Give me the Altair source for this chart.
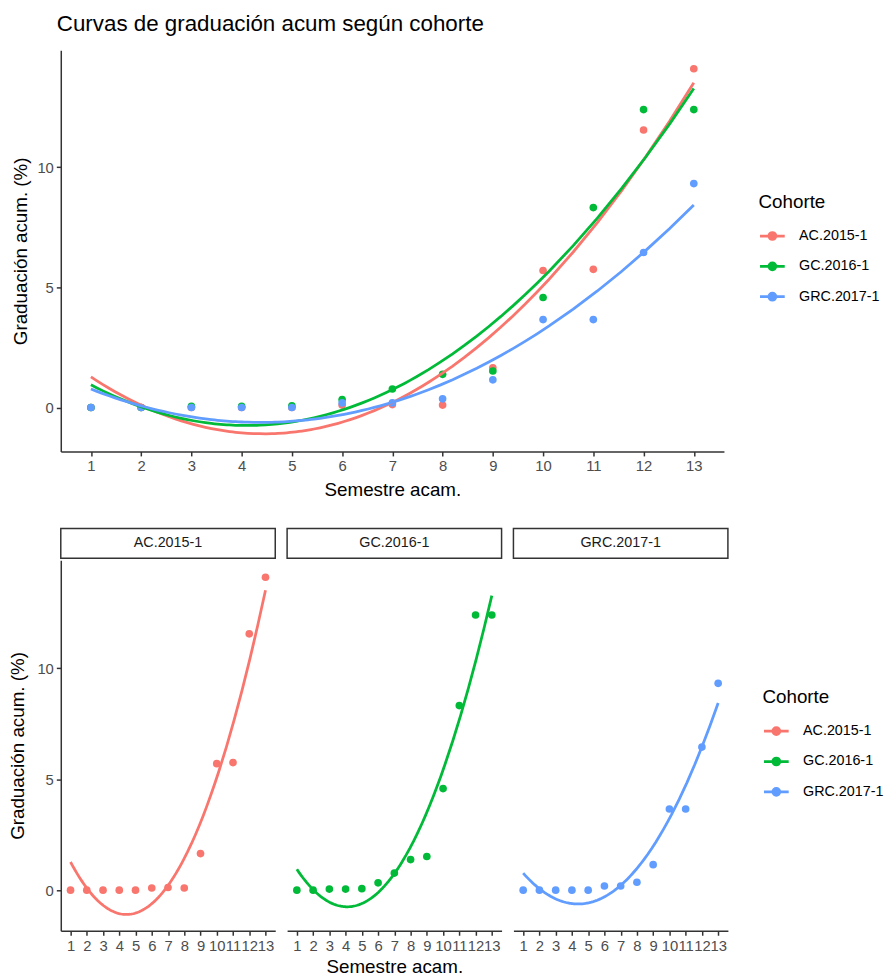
import altair as alt
import pandas as pd

# ---------------- data ----------------
semestres = list(range(1, 14))
cohortes = ["AC.2015-1", "GC.2016-1", "GRC.2017-1"]
colores = ["#F8766D", "#00BA38", "#619CFF"]

grad_ac = [0.0, 0.0, 0.0, 0.0, 0.0, 0.10, 0.12, 0.10, 1.65, 5.70, 5.75, 11.55, 14.10]
grad_gc = [0.0, 0.0, 0.05, 0.05, 0.07, 0.33, 0.77, 1.38, 1.52, 4.58, 8.32, 12.40, 12.40]
grad_grc = [0.0, 0.0, 0.0, 0.0, 0.0, 0.19, 0.19, 0.36, 1.15, 3.66, 3.66, 6.45, 9.32]

rows = []
for c, vals in zip(cohortes, [grad_ac, grad_gc, grad_grc]):
    for s, v in zip(semestres, vals):
        rows.append({"Cohorte": c, "Semestre": s, "Grad": v})
df = pd.DataFrame(rows)

# ---------------- style ----------------
FONT = "Liberation Sans"
YDOM = [-1.83, 14.87]
XDOM = [0.4, 13.6]
SYM = "M-1,0H1M-0.28,0A0.28,0.28,0,1,0,0.28,0A0.28,0.28,0,1,0,-0.28,0Z"
color_scale = alt.Scale(domain=cohortes, range=colores)
AX = dict(labelFontSize=15, labelColor="#4D4D4D", labelFont=FONT, titleFontSize=19,
          titleFont=FONT, titleFontWeight="normal", titleColor="#000000",
          domainColor="#333333", domainWidth=1.5, tickColor="#333333", tickWidth=1.5,
          tickSize=4.5, labelPadding=3, grid=False, format="d")


def make_layers(chart, xaxis, yaxis, legend):
    x = alt.X("Semestre:Q", scale=alt.Scale(domain=XDOM, nice=False, zero=False), axis=xaxis)
    y = alt.Y("Grad:Q", scale=alt.Scale(domain=YDOM, nice=False, zero=False), axis=yaxis)
    col = alt.Color("Cohorte:N", scale=color_scale, legend=legend)
    pts = chart.mark_circle(size=60, opacity=1).encode(x=x, y=y, color=col)
    fit = (
        chart.transform_regression(
            "Semestre", "Grad", groupby=["Cohorte"], method="poly", order=2, extent=[1, 13]
        )
        .mark_line(strokeWidth=2.8)
        .encode(x=x, y=y, color=col)
    )
    return pts, fit


# ---------------- top chart ----------------
top_x_axis = alt.Axis(values=semestres, title="Semestre acam.", labelOverlap=False,
                      labelFlush=False, titlePadding=7, **AX)
top_y_axis = alt.Axis(values=[0, 5, 10], title="Graduación acum. (%)", titlePadding=6, **AX)
top_legend = alt.Legend(title="Cohorte", orient="none", legendX=706, legendY=144.5)
tp, tf = make_layers(alt.Chart(df), top_x_axis, top_y_axis, top_legend)
top = alt.layer(tp, tf).properties(
    width=671,
    height=406,
    title=alt.TitleParams(
        "Curvas de graduación acum según cohorte", anchor="start", frame="group", offset=15,
        dx=-4, fontSize=22.6, font=FONT, fontWeight="normal", color="#000000",
    ),
)

# ---------------- bottom facets ----------------
PW, PH = 217, 375
bot_legend = alt.Legend(title="Cohorte", orient="none", legendX=710, legendY=129.5)
panels = []
for i, c in enumerate(cohortes):
    base = alt.Chart(df).transform_filter(alt.datum.Cohorte == c)
    xaxis = alt.Axis(values=semestres, title="Semestre acam." if i == 1 else None,
                     labelOverlap=False, labelFlush=False, titlePadding=5, **AX)
    yaxis = (alt.Axis(values=[0, 5, 10], title="Graduación acum. (%)", titlePadding=10, **AX)
             if i == 0 else None)
    p, f = make_layers(base, xaxis, yaxis, bot_legend)
    strip_df = pd.DataFrame({"Cohorte": [c]})
    box = alt.Chart(strip_df).mark_rect(fill="white", stroke="#333333", strokeWidth=1.5).encode(
        x=alt.value(0), x2=alt.value(PW), y=alt.value(-32), y2=alt.value(-2)
    )
    txt = alt.Chart(strip_df).mark_text(font=FONT, fontSize=14.5, color="#1A1A1A").encode(
        text="Cohorte:N", x=alt.value(PW / 2), y=alt.value(-17)
    )
    panels.append(alt.layer(box, txt, p, f).properties(width=PW, height=PH))

bottom = alt.hconcat(*panels, spacing=10)

chart = (
    alt.vconcat(top, bottom, spacing=28)
    .resolve_legend(color="independent")
    .properties(padding={"left": 7.5, "top": 7, "right": 5, "bottom": 0})
    .configure(font=FONT)
    .configure_view(stroke=None)
    .configure_axis(
        domainColor="#333333", domainWidth=1.5, tickColor="#333333", tickWidth=1.5,
        tickSize=4.5, labelColor="#4D4D4D", labelFontSize=15, labelFont=FONT,
        titleFont=FONT, titleFontSize=19, titleFontWeight="normal", titleColor="#000000",
        grid=False,
    )
    .configure_legend(
        symbolType=SYM, symbolSize=625, symbolStrokeWidth=2.8, labelFontSize=14.5,
        titleFontSize=19, titleFontWeight="normal", labelFont=FONT, titleFont=FONT,
        rowPadding=6.7, titlePadding=10.5, labelOffset=13, padding=0, labelColor="#000000",
        titleColor="#000000",
    )
    .configure_title(font=FONT, fontSize=22.6, fontWeight="normal", color="#000000")
)

chart.save("out.html", embed_options={"renderer": "svg", "actions": False})
